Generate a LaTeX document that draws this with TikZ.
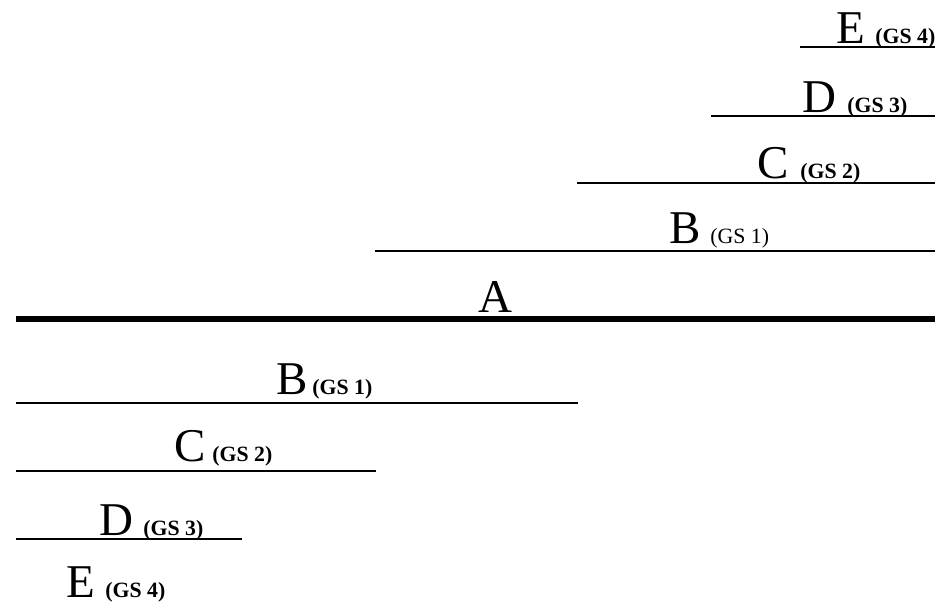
\documentclass[tikz,border=0pt]{standalone}
\usepackage{fontspec}
\setmainfont{Liberation Serif}
\usepackage{tikz}

\begin{document}
\begin{tikzpicture}[
    x=0.5pt, y=-0.5pt,
    letter/.style={font=\fontsize{23.5}{24}\selectfont, inner sep=0pt, anchor=base west},
    gs/.style={font=\fontsize{10.9}{11}\selectfont\bfseries, inner sep=0pt, anchor=base west},
    gsreg/.style={font=\fontsize{10.9}{11}\selectfont, inner sep=0pt, anchor=base west},
    level/.style={line width=0.75pt},
    baseline/.style={line width=3pt},
]
\useasboundingbox (0,0) rectangle (949,607);

% upper stack
\node[letter] (eU) at (836,43)  {E};
\node[gs]     (eUgs) at (875,43) {(GS 4)};
\draw[level] (800,47) -- (935,47);

\node[letter] (dU) at (802,112) {D};
\node[gs]     (dUgs) at (847,112) {(GS 3)};
\draw[level] (711,116) -- (935,116);

\node[letter] (cU) at (757,178) {C};
\node[gs]     (cUgs) at (800,178) {(GS 2)};
\draw[level] (577,183) -- (935,183);

\node[letter] (bU) at (669,243) {B};
\node[gsreg]  (bUgs) at (710,243) {(GS 1)};
\draw[level] (375,251) -- (935,251);

% base
\node[letter] (a) at (478,312) {A};
\draw[baseline] (16,319) -- (935,319);

% lower stack
\node[letter] (bL) at (276,394) {B};
\node[gs]     (bLgs) at (312,394) {(GS 1)};
\draw[level] (16,403) -- (578,403);

\node[letter] (cL) at (174,461) {C};
\node[gs]     (cLgs) at (212,461) {(GS 2)};
\draw[level] (16,471) -- (376,471);

\node[letter] (dL) at (99,535) {D};
\node[gs]     (dLgs) at (143,535) {(GS 3)};
\draw[level] (16,539) -- (242,539);

\node[letter] (eL) at (66,597) {E};
\node[gs]     (eLgs) at (105,597) {(GS 4)};
\end{tikzpicture}
\end{document}
